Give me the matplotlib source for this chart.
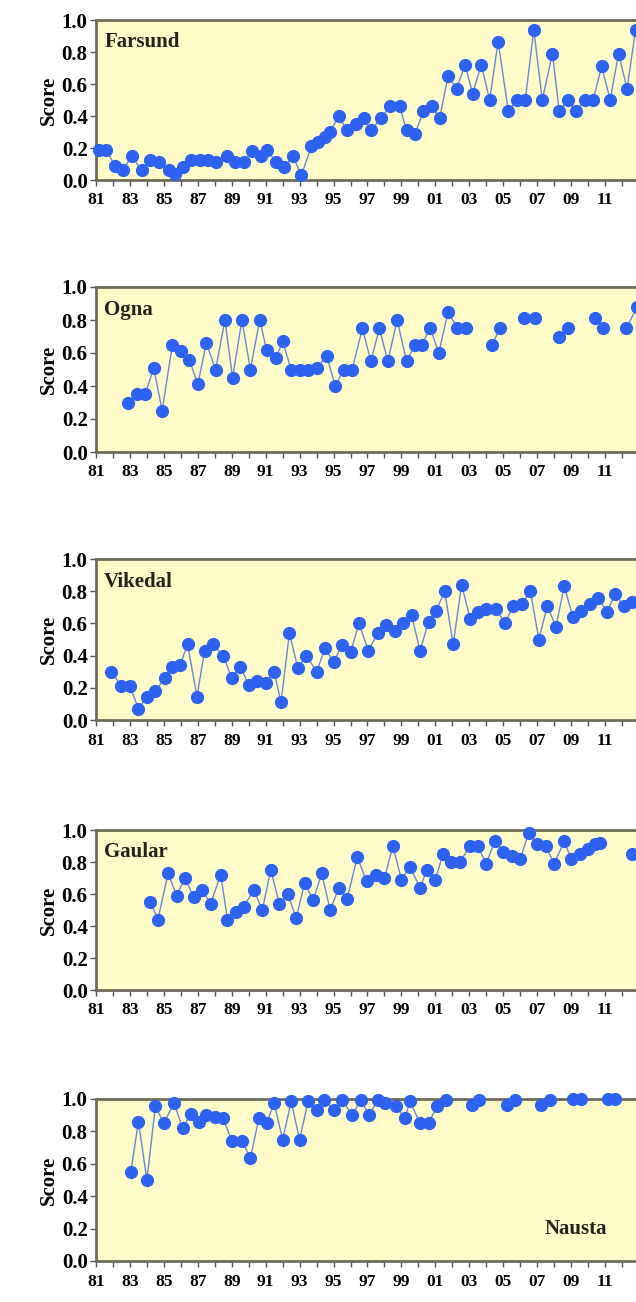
import numpy as np
import matplotlib
matplotlib.use("Agg")
from matplotlib import pyplot as plt

nan = np.nan

# Farsund
farsund_year = [1981.2, 1981.6, 1982.1, 1982.6, 1983.1, 1983.7, 1984.2, 1984.7, 1985.3, 1985.65,
                1986.1, 1986.6, 1987.1, 1987.6, 1988.1, 1988.7, 1989.2, 1989.7, 1990.2, 1990.7,
                1991.1, 1991.6, 1992.1, 1992.6, 1993.1, 1993.7, 1994.1, 1994.5, 1994.8, 1995.3,
                1995.8, 1996.3, 1996.8, 1997.2, 1997.8, 1998.3, 1998.9, 1999.3, 1999.8, 2000.3,
                2000.8, 2001.25, 2001.75, 2002.25, 2002.75, 2003.2, 2003.7, 2004.2, 2004.7, 2005.3,
                2005.8, 2006.3, 2006.8, 2007.3, 2007.9, 2008.3, 2008.8, 2009.3, 2009.8, 2010.3,
                2010.8, 2011.3, 2011.8, 2012.3, 2012.8]
farsund_score = [0.19, 0.19, 0.09, 0.06, 0.15, 0.06, 0.125, 0.11, 0.06, 0.04,
                 0.08, 0.125, 0.125, 0.125, 0.11, 0.15, 0.11, 0.11, 0.18, 0.15,
                 0.19, 0.11, 0.08, 0.15, 0.03, 0.21, 0.24, 0.27, 0.30, 0.40,
                 0.31, 0.35, 0.39, 0.31, 0.385, 0.46, 0.46, 0.31, 0.29, 0.43,
                 0.46, 0.385, 0.65, 0.57, 0.72, 0.54, 0.72, 0.50, 0.865, 0.43,
                 0.50, 0.50, 0.94, 0.50, 0.79, 0.43, 0.50, 0.43, 0.50, 0.50,
                 0.71, 0.50, 0.79, 0.57, 0.94]

# Ogna (nan = missing sample)
ogna_year = [1982.9, 1983.4, 1983.9, 1984.4, 1984.9, 1985.5, 1986.0, 1986.5, 1987.0, 1987.5,
             1988.05, 1988.6, 1989.05, 1989.6, 1990.1, 1990.65, 1991.05, 1991.6, 1992.0, 1992.5,
             1993.0, 1993.5, 1994.0, 1994.6, 1995.1, 1995.6, 1996.1, 1996.7, 1997.2, 1997.7,
             1998.2, 1998.75, 1999.3, 1999.8, 2000.2, 2000.7, 2001.2, 2001.75, 2002.3, 2002.8,
             2003.5, 2004.35, 2004.8, 2005.5, 2006.2, 2006.85, 2007.5, 2008.3, 2008.8, 2009.5,
             2010.4, 2010.9, 2011.5, 2012.25, 2012.9]
ogna_score = [0.30, 0.35, 0.35, 0.51, 0.25, 0.65, 0.61, 0.56, 0.41, 0.66,
              0.50, 0.80, 0.45, 0.80, 0.50, 0.80, 0.62, 0.57, 0.67, 0.50,
              0.50, 0.50, 0.51, 0.58, 0.40, 0.50, 0.50, 0.75, 0.55, 0.75,
              0.55, 0.80, 0.55, 0.65, 0.65, 0.75, 0.60, 0.85, 0.75, 0.75,
              nan, 0.65, 0.75, nan, 0.81, 0.81, nan, 0.70, 0.75, nan,
              0.81, 0.75, nan, 0.75, 0.88]

# Vikedal
vikedal_year = [1981.9, 1982.5, 1983.0, 1983.5, 1984.0, 1984.5, 1985.05, 1985.45, 1985.95, 1986.4,
                1986.95, 1987.4, 1987.9, 1988.5, 1989.0, 1989.5, 1990.0, 1990.5, 1991.0, 1991.5,
                1991.9, 1992.4, 1992.9, 1993.4, 1994.0, 1994.5, 1995.0, 1995.5, 1996.0, 1996.5,
                1997.05, 1997.6, 1998.1, 1998.6, 1999.1, 1999.6, 2000.1, 2000.6, 2001.05, 2001.55,
                2002.05, 2002.55, 2003.05, 2003.5, 2004.0, 2004.6, 2005.1, 2005.6, 2006.1, 2006.6,
                2007.1, 2007.6, 2008.1, 2008.6, 2009.1, 2009.6, 2010.1, 2010.6, 2011.1, 2011.6,
                2012.1, 2012.6]
vikedal_score = [0.30, 0.21, 0.21, 0.07, 0.145, 0.18, 0.26, 0.33, 0.34, 0.47,
                 0.145, 0.43, 0.47, 0.40, 0.26, 0.33, 0.22, 0.24, 0.23, 0.30,
                 0.11, 0.54, 0.32, 0.40, 0.30, 0.445, 0.36, 0.465, 0.42, 0.60,
                 0.43, 0.54, 0.59, 0.55, 0.60, 0.65, 0.43, 0.61, 0.68, 0.80,
                 0.47, 0.84, 0.63, 0.67, 0.69, 0.69, 0.60, 0.71, 0.72, 0.80,
                 0.50, 0.71, 0.58, 0.83, 0.64, 0.68, 0.72, 0.76, 0.67, 0.78,
                 0.71, 0.73]

# Gaular
gaular_year = [1984.2, 1984.65, 1985.25, 1985.75, 1986.25, 1986.75, 1987.25, 1987.75, 1988.35, 1988.75,
               1989.25, 1989.7, 1990.3, 1990.8, 1991.3, 1991.8, 1992.3, 1992.8, 1993.3, 1993.8,
               1994.3, 1994.8, 1995.3, 1995.8, 1996.4, 1996.95, 1997.5, 1998.0, 1998.5, 1999.0,
               1999.5, 2000.1, 2000.5, 2001.0, 2001.45, 2001.95, 2002.45, 2003.05, 2003.5, 2004.0,
               2004.5, 2005.0, 2005.5, 2006.0, 2006.5, 2007.0, 2007.5, 2008.0, 2008.6, 2009.0,
               2009.5, 2010.0, 2010.4, 2010.7, 2011.6, 2012.6]
gaular_score = [0.55, 0.44, 0.73, 0.59, 0.70, 0.58, 0.625, 0.54, 0.72, 0.44,
                0.49, 0.52, 0.625, 0.50, 0.75, 0.54, 0.60, 0.45, 0.67, 0.56,
                0.73, 0.50, 0.635, 0.57, 0.83, 0.68, 0.72, 0.70, 0.90, 0.69,
                0.77, 0.64, 0.75, 0.69, 0.85, 0.80, 0.80, 0.90, 0.90, 0.79,
                0.93, 0.86, 0.84, 0.82, 0.98, 0.91, 0.90, 0.79, 0.93, 0.82,
                0.85, 0.88, 0.91, 0.92, nan, 0.85]

# Nausta
nausta_year = [1983.05, 1983.5, 1984.0, 1984.5, 1985.0, 1985.6, 1986.1, 1986.6, 1987.05, 1987.5,
               1988.0, 1988.5, 1989.0, 1989.6, 1990.1, 1990.6, 1991.05, 1991.5, 1992.0, 1992.5,
               1993.0, 1993.5, 1994.0, 1994.45, 1995.05, 1995.5, 1996.1, 1996.6, 1997.1, 1997.6,
               1998.05, 1998.7, 1999.2, 1999.5, 2000.1, 2000.6, 2001.1, 2001.6, 2002.4, 2003.15,
               2003.6, 2004.4, 2005.2, 2005.7, 2006.5, 2007.25, 2007.75, 2008.4, 2009.1, 2009.6,
               2010.4, 2011.15, 2011.6]
nausta_score = [0.55, 0.86, 0.50, 0.955, 0.85, 0.975, 0.82, 0.91, 0.86, 0.90,
                0.89, 0.88, 0.74, 0.74, 0.635, 0.88, 0.85, 0.975, 0.75, 0.985,
                0.75, 0.985, 0.93, 0.995, 0.93, 0.995, 0.90, 0.995, 0.90, 0.995,
                0.975, 0.955, 0.88, 0.985, 0.85, 0.85, 0.955, 0.995, nan, 0.965,
                0.995, nan, 0.965, 0.995, nan, 0.965, 0.995, nan, 1.0, 1.0,
                nan, 1.0, 1.0]

stations = ['Farsund', 'Ogna', 'Vikedal', 'Gaular', 'Nausta']
years = [farsund_year, ogna_year, vikedal_year, gaular_year, nausta_year]
scores = [farsund_score, ogna_score, vikedal_score, gaular_score, nausta_score]

yticks = [0.0, 0.2, 0.4, 0.6, 0.8, 1.0]
xlabels = ['81', '83', '85', '87', '89', '91', '93', '95', '97', '99',
           '01', '03', '05', '07', '09', '11']

plt.rcParams['font.family'] = ['Liberation Serif', 'DejaVu Serif']
plt.rcParams['font.weight'] = 'bold'

W, H = 636, 1302
fig = plt.figure(figsize=(W / 100, H / 100), dpi=100)
fig.patch.set_facecolor('white')

# panel top/bottom in pixels (value 1.0 / 0.0)
tops = [20, 287, 559, 830, 1099]
bottoms = [180, 452, 720, 990, 1261]
left_px = 96

for i, name in enumerate(stations):
    ax = fig.add_axes([left_px / W, 1 - bottoms[i] / H, 1 - left_px / W + 0.01,
                       (bottoms[i] - tops[i]) / H])
    ax.set_facecolor('#fefcc8')
    ax.plot(years[i], scores[i], '-', color='#6a86d8', lw=1.0, zorder=2, clip_on=False)
    ax.plot(years[i], scores[i], 'o', color='#2e63f2', ms=8.5, mec='#2e63f2', zorder=3,
            clip_on=False)
    ax.set_xlim(1981, 2013.2)
    ax.set_ylim(0, 1)
    ax.set_yticks(yticks)
    ax.set_yticklabels(['%.1f' % v for v in yticks], fontsize=15, fontweight='bold')
    ax.set_xticks(np.arange(1981, 2012, 2))
    ax.set_xticks(np.arange(1981, 2014, 1), minor=True)
    ax.set_xticklabels(xlabels, fontsize=12.5, fontweight='bold')
    ax.tick_params(axis='x', which='both', direction='out', length=4, width=1,
                   color='#555555', pad=5)
    ax.tick_params(axis='y', direction='out', length=4, width=1, color='#555555', pad=2)
    ax.set_ylabel('Score', fontsize=15, fontweight='bold', labelpad=2)
    for side in ['left', 'bottom', 'top']:
        ax.spines[side].set_color('#6e6c58')
        ax.spines[side].set_linewidth(2)
    ax.spines['right'].set_visible(False)
    if name == 'Nausta':
        ax.text(0.935, 0.2, name, transform=ax.transAxes, fontsize=15,
                fontweight='bold', color='#24241a', ha='right', va='center')
    else:
        ax.text(0.015, 0.86, name, transform=ax.transAxes, fontsize=15,
                fontweight='bold', color='#24241a', ha='left', va='center')

fig.savefig('out.png', dpi=100)
